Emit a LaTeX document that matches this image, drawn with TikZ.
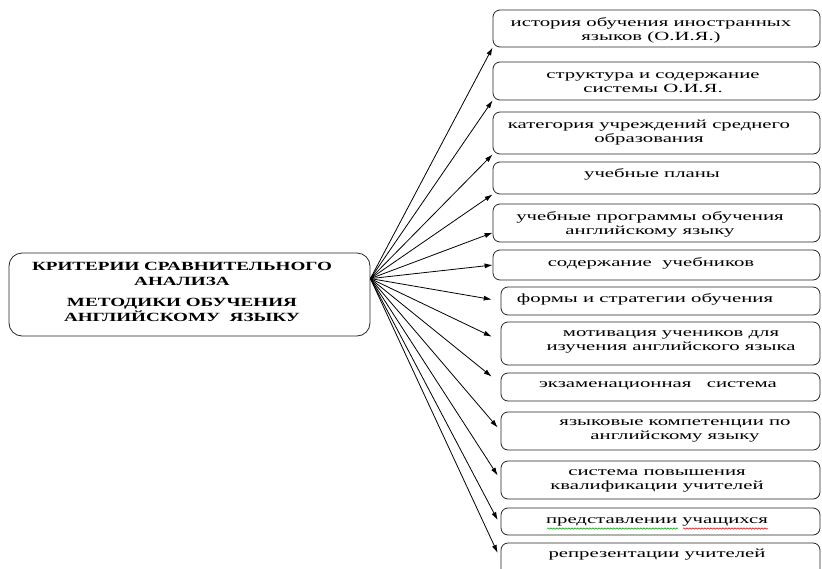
\documentclass[tikz,border=0pt]{standalone}
\usepackage{fontspec}
\setmainfont[FakeStretch=1.66]{Liberation Serif}
\newfontfamily\cfont[FakeStretch=1.53]{Liberation Serif}
\usetikzlibrary{arrows.meta,calc,decorations.pathmorphing}
\begin{document}
\begin{tikzpicture}[x=1pt,y=-1pt,
  box/.style={draw=black!85, line width=0.8pt, rounded corners=7pt, inner sep=0pt},
  txt/.style={font=\fontsize{12.5}{14.5}\selectfont, align=center, inner sep=0pt},
  ctxt/.style={font=\cfont\fontsize{12.5}{15}\selectfont\bfseries, align=center, inner sep=0pt},
  arr/.style={-{Latex[length=8pt,width=5pt]}, line width=0.8pt},
  sq/.style={line width=0.5pt, decorate, decoration={snake, amplitude=0.7pt, segment length=3pt}}]
\useasboundingbox (0,0) rectangle (822,568);
% central box
\node[box, rounded corners=13pt, minimum width=361pt, minimum height=83pt] (c) at (189.5,294.5) {};
\node[ctxt] (ct) at (182,292) {КРИТЕРИИ СРАВНИТЕЛЬНОГО\\АНАЛИЗА\\[6pt]МЕТОДИКИ ОБУЧЕНИЯ\\АНГЛИЙСКОМУ\ \ ЯЗЫКУ};
% right boxes
\node[box, minimum width=327pt, minimum height=37pt] (b1) at (656.5,28.5) {};
\node[box, minimum width=327pt, minimum height=38pt] (b2) at (656.5,81) {};
\node[box, minimum width=327pt, minimum height=42pt] (b3) at (656.5,133) {};
\node[box, minimum width=327pt, minimum height=32pt] (b4) at (656.5,178) {};
\node[box, minimum width=327pt, minimum height=38pt] (b5) at (656.5,223) {};
\node[box, minimum width=327pt, minimum height=30pt] (b6) at (656.5,265) {};
\node[box, minimum width=319pt, minimum height=28pt] (b7) at (660.5,301) {};
\node[box, minimum width=319pt, minimum height=43pt] (b8) at (660.5,343.5) {};
\node[box, minimum width=319pt, minimum height=28pt] (b9) at (660.5,387) {};
\node[box, minimum width=319pt, minimum height=38pt] (b10) at (660.5,431) {};
\node[box, minimum width=319pt, minimum height=38pt] (b11) at (660.5,480) {};
\node[box, minimum width=319pt, minimum height=27pt] (b12) at (660.5,521.5) {};
\node[box, minimum width=319pt, minimum height=47pt] (b13) at (660.5,566.5) {};
% texts
\node[txt] (t1) at (651,30.5) {история обучения иностранных\\языков (О.И.Я.)};
\node[txt] (t2) at (653,82.5) {структура и содержание\\системы О.И.Я.};
\node[txt] (t3) at (649,132.5) {категория учреждений среднего\\образования};
\node[txt] (t4) at (652,174) {учебные планы};
\node[txt] (t5) at (650,224.5) {учебные программы обучения\\английскому языку};
\node[txt] (t6) at (651,263) {содержание\ \ учебников};
\node[txt] (t7) at (645,299) {формы и стратегии обучения};
\node[txt] (t8) at (671,342) {мотивация учеников для\\изучения английского языка};
\node[txt] (t9) at (658,386) {экзаменационная\ \ \ система};
\node[txt] (t10) at (675,431) {языковые компетенции по\\английскому языку};
\node[txt] (t11) at (657,481) {система повышения\\квалификации учителей};
\node[txt] (t12) at (657,522) {представлении учащихся};
\node[txt] (t13) at (657,555) {репрезентации учителей};
% spell-check underlines
\draw[sq, green!60!black] (547,528.5) -- (678,528.5);
\draw[sq, red!80!black] (683,528.5) -- (768,528.5);
% arrows
\coordinate (o) at ($(c.north east)!0.31!(c.south east)$);
\draw[arr] (o) -- (b1.south west);
\draw[arr] (o) -- (b2.south west);
\draw[arr] (o) -- (b3.south west);
\draw[arr] (o) -- (b4.south west);
\draw[arr] (o) -- ($(b5.south west)!0.25!(b5.north west)$);
\draw[arr] (o) -- (b6.west);
\draw[arr, shorten >=9pt] (o) -- (b7.west);
\draw[arr, shorten >=9.8pt] (o) -- ($(b8.north west)!0.44!(b8.south west)$);
\draw[arr, shorten >=11.5pt] (o) -- ($(b9.north west)!0.39!(b9.south west)$);
\draw[arr, shorten >=4.5pt] (o) -- (b10.west);
\draw[arr, shorten >=5.4pt] (o) -- (b11.west);
\draw[arr, shorten >=6.3pt] (o) -- ($(b12.north west)!0.65!(b12.south west)$);
\draw[arr, shorten >=7pt] (o) -- ($(b13.north west)!0.35!(b13.south west)$);
\end{tikzpicture}
\end{document}
